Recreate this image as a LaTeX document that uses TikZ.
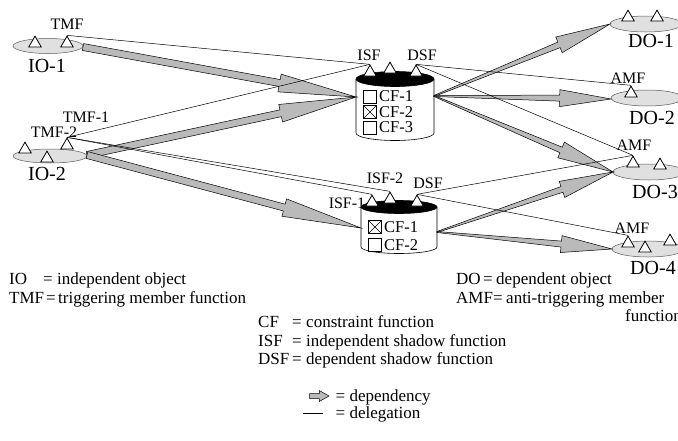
\documentclass[tikz,border=0pt]{standalone}
\usepackage{fontspec}
\setmainfont{Liberation Serif}
\usetikzlibrary{calc,shapes.geometric}
% dependency arrow: #1 start, #2 end, #3 tail half width, #4 shaft half width, #5 head half width, #6 head-base fraction
\newcommand\deparrow[6]{%
  \filldraw[depfill] ($(#1)!#3!90:(#2)$) -- ($(#1)!#6!(#2)!#4!90:(#2)$) -- ($(#1)!#6!(#2)!#5!90:(#2)$) -- (#2)
    -- ($(#1)!#6!(#2)!#5!-90:(#2)$) -- ($(#1)!#6!(#2)!#4!-90:(#2)$) -- ($(#1)!#3!-90:(#2)$) -- cycle;}
\newcommand\trinode[3]{\node[tri] (#1) at (#2,#3-3.6) {};}
\begin{document}
\begin{tikzpicture}[x=1pt,y=-1pt,
  obj/.style={ellipse, draw=black!65, fill=black!12, line width=0.5pt, inner sep=0},
  tri/.style={regular polygon, regular polygon sides=3, draw=black, fill=white, line width=0.8pt, inner sep=0, minimum size=14.5pt},
  deleg/.style={draw=black, line width=0.5pt},
  depfill/.style={fill=black!27, draw=black, line width=0.5pt, line join=miter},
  lbl/.style={font=\fontsize{16}{18}\selectfont, inner sep=0},
  big/.style={font=\fontsize{20}{22}\selectfont, inner sep=0},
  cft/.style={font=\fontsize{16.5}{18}\selectfont, inner sep=0, anchor=west},
  leg/.style={font=\fontsize{17}{19}\selectfont, inner sep=0, anchor=base west},
  cbox/.style={draw, minimum size=13pt, inner sep=0, fill=white, line width=0.5pt},
  xbox/.style={cbox, path picture={\draw[line width=0.4pt] (path picture bounding box.north west) -- (path picture bounding box.south east) (path picture bounding box.north east) -- (path picture bounding box.south west);}},
  cylbody/.style={draw=black, fill=white, line width=0.6pt}
]
\useasboundingbox (0,0) rectangle (678,440);

% ---------- objects ----------
\node[obj, minimum width=70pt, minimum height=15pt] (io1) at (48,46) {};
\node[obj, minimum width=74pt, minimum height=14pt] (io2) at (50,156) {};
\node[obj, minimum width=72pt, minimum height=16pt] (do1) at (646,24) {};
\node[obj, minimum width=72pt, minimum height=16pt] (do2) at (647,98) {};
\node[obj, minimum width=72pt, minimum height=16pt] (do3) at (649,172) {};
\node[obj, minimum width=72pt, minimum height=16pt] (do4) at (648,249) {};

% ---------- cylinders ----------
\coordinate (c1) at (395,106);
\draw[cylbody] (356,79) -- (356,133) arc[start angle=180, end angle=360, x radius=39pt, y radius=7.5pt] -- (434,79);
\draw[fill=black, line width=0.6pt] (395,79) ellipse [x radius=39pt, y radius=7.5pt];
\coordinate (c2) at (399,227);
\draw[cylbody] (361,207) -- (361,247) arc[start angle=180, end angle=360, x radius=38pt, y radius=6.5pt] -- (437,207);
\draw[fill=black, line width=0.6pt] (399,207) ellipse [x radius=38pt, y radius=6.5pt];

% check boxes and constraint functions
\node[cbox] (b11) at (370,96.5) {};
\node[xbox] (b12) at (370,112) {};
\node[cbox] (b13) at (370,127.5) {};
\node[cft] (cf11) at (379,96.5) {CF-1};
\node[cft] (cf12) at (379,112) {CF-2};
\node[cft] (cf13) at (379,127.5) {CF-3};
\node[xbox] (b21) at (375,227) {};
\node[cbox] (b22) at (375,245) {};
\node[cft] (cf21) at (384,227) {CF-1};
\node[cft] (cf22) at (384,245) {CF-2};

% ---------- dependency arrows ----------
\coordinate (a1s) at (83,47);
\coordinate (a2s) at (87,155);
\coordinate (c1in) at (356,97);
\coordinate (c2in) at (361,228);
\coordinate (c1out) at (434,96);
\coordinate (c2out) at (437,232);
\coordinate (d1in) at (610,24);
\coordinate (d2in) at (611,99);
\coordinate (d3in) at (613,172);
\coordinate (d4in) at (612,249);
\deparrow{a1s}{c1in}{3.5pt}{3.5pt}{9pt}{0.72}
\deparrow{a2s}{c1in}{3.5pt}{3.5pt}{9pt}{0.72}
\deparrow{a2s}{c2in}{3.5pt}{3.5pt}{9pt}{0.72}
\deparrow{c1out}{d1in}{0.5pt}{3pt}{8.5pt}{0.71}
\deparrow{c1out}{d2in}{0.5pt}{3pt}{8.5pt}{0.71}
\deparrow{c1out}{d3in}{0.5pt}{3pt}{8.5pt}{0.71}
\deparrow{c2out}{d3in}{0.5pt}{3pt}{8.5pt}{0.71}
\deparrow{c2out}{d4in}{0.5pt}{3pt}{8.5pt}{0.71}

% ---------- member / shadow functions (triangles) ----------
\trinode{io1a}{35}{47}
\trinode{io1b}{67}{47}
\trinode{io2a}{25}{153}
\trinode{io2b}{47}{162}
\trinode{io2c}{67}{149}
\trinode{c1a}{370}{76}
\trinode{c1b}{390}{73}
\trinode{c1c}{416}{76}
\trinode{c2a}{372}{206}
\trinode{c2b}{390}{203}
\trinode{c2c}{417}{206}
\trinode{do1a}{628}{21}
\trinode{do1b}{657}{21}
\trinode{do2a}{631}{97}
\trinode{do3a}{633}{167}
\trinode{do3b}{660}{169}
\trinode{do4a}{628}{247}
\trinode{do4b}{645}{252}
\trinode{do4c}{670}{245}

% ---------- delegation lines ----------
\draw[deleg] (io1b.corner 1) -- (c1a.corner 1);
\draw[deleg] (io2c.corner 1) -- (c1a.corner 1);
\draw[deleg] (io2c.corner 1) -- (c2b.corner 1);
\draw[deleg] (io2c.corner 1) -- (c2a.corner 1);
\draw[deleg] (c1c.corner 1) -- (do2a.corner 1);
\draw[deleg] (c1c.corner 1) -- (do3a.corner 1);
\draw[deleg] (c2c.corner 1) -- (do3a.corner 1);
\draw[deleg] (c2c.corner 1) -- (do4a.corner 1);

% ---------- labels ----------
\node[lbl] (tTMF) at (67,24) {TMF};
\node[big] (tIO1) at (47,66) {IO-1};
\node[lbl] (tTMF1) at (86,117) {TMF-1};
\node[lbl] (tTMF2) at (54,132) {TMF-2};
\node[big] (tIO2) at (47,174) {IO-2};
\node[lbl] (tISF) at (369,55) {ISF};
\node[lbl] (tDSF) at (422,55) {DSF};
\node[lbl] (tISF2) at (385,178) {ISF-2};
\node[lbl] (tDSF2) at (428,183) {DSF};
\node[lbl] (tISF1) at (347,203) {ISF-1};
\node[big] (tDO1) at (651,41) {DO-1};
\node[lbl] (tAMF2) at (628,78) {AMF};
\node[big] (tDO2) at (652,118) {DO-2};
\node[lbl] (tAMF3) at (634,145) {AMF};
\node[big] (tDO3) at (655,192) {DO-3};
\node[lbl] (tAMF4) at (632,228) {AMF};
\node[big] (tDO4) at (653,268) {DO-4};

% ---------- legend ----------
\node[leg] (kIO) at (9,284.5) {IO};
\node[leg] (kIOe) at (43,284.5) {=};
\node[leg] (kIOd) at (57,284.5) {independent object};
\node[leg] (kTMF) at (9,303.5) {TMF};
\node[leg] (kTMFe) at (46,303.5) {=};
\node[leg] (kTMFd) at (58,303.5) {triggering member function};
\node[leg] (kDO) at (456,284.5) {DO};
\node[leg] (kDOe) at (483,284.5) {=};
\node[leg] (kDOd) at (496,284.5) {dependent object};
\node[leg] (kAMF) at (456,303.5) {AMF};
\node[leg] (kAMFe) at (493,303.5) {=};
\node[leg] (kAMFd) at (506,303.5) {anti-triggering member};
\node[leg] (kAMFd2) at (625,321.5) {function};
\node[leg] (kCF) at (258,327.5) {CF};
\node[leg] (kCFe) at (292,327.5) {=};
\node[leg] (kCFd) at (306,327.5) {constraint function};
\node[leg] (kISF) at (258,346.5) {ISF};
\node[leg] (kISFe) at (292,346.5) {=};
\node[leg] (kISFd) at (306,346.5) {independent shadow function};
\node[leg] (kDSF) at (258,364.5) {DSF};
\node[leg] (kDSFe) at (292,364.5) {=};
\node[leg] (kDSFd) at (306,364.5) {dependent shadow function};
\coordinate (kdepA) at (309.5,396);
\coordinate (kdepB) at (329,396);
\deparrow{kdepA}{kdepB}{2.5pt}{2.5pt}{5.5pt}{0.5}
\node[leg] (kdep) at (335.5,401.5) {= dependency};
\coordinate (kdelA) at (303,413);
\coordinate (kdelB) at (322.5,413);
\draw[deleg] (kdelA) -- (kdelB);
\node[leg] (kdel) at (335.5,418.5) {= delegation};
\end{tikzpicture}
\end{document}
